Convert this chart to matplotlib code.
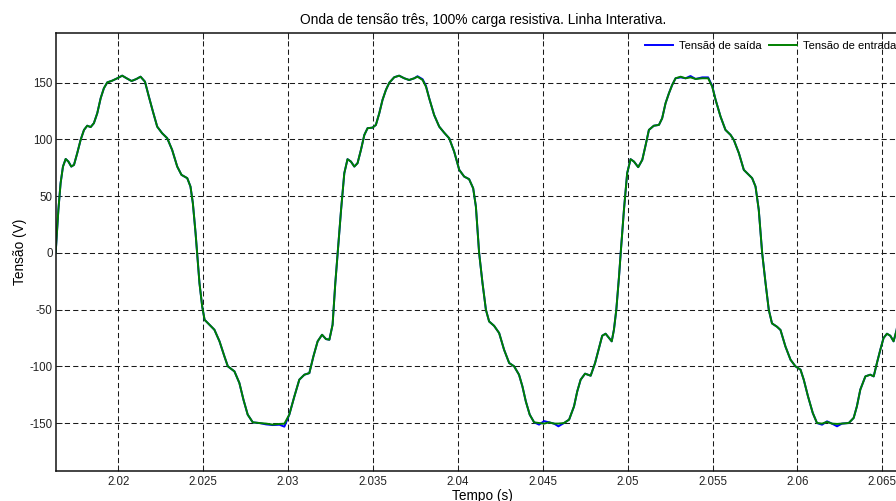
import matplotlib
matplotlib.use('Agg')
import matplotlib.pyplot as plt

plt.rcParams['font.family'] = ['Liberation Sans', 'DejaVu Sans']
plt.rcParams['axes.unicode_minus'] = False

# tempo (s)
tempo = [
    2.01631, 2.01647, 2.01660, 2.01674, 2.01690, 2.01706, 2.01723, 2.01739, 2.01758, 2.01778,
    2.01798, 2.01817, 2.01837, 2.01856, 2.01876, 2.01896, 2.01915, 2.01935, 2.01964, 2.01994,
    2.02023, 2.02049, 2.02078, 2.02107, 2.02131, 2.02157, 2.02180, 2.02204, 2.02229, 2.02258,
    2.02288, 2.02317, 2.02347, 2.02372, 2.02406, 2.02425, 2.02439, 2.02455,
    2.02478, 2.02494, 2.02508, 2.02537, 2.02566, 2.02596, 2.02625, 2.02645, 2.02684, 2.02713,
    2.02737, 2.02762, 2.02792, 2.02831, 2.02870, 2.02909, 2.02949, 2.02978, 2.03007, 2.03037,
    2.03066, 2.03096, 2.03125, 2.03149, 2.03174, 2.03200, 2.03223, 2.03243, 2.03262, 2.03278,
    2.03292, 2.03312, 2.03331, 2.03350, 2.03370, 2.03390, 2.03409, 2.03429, 2.03449, 2.03468,
    2.03497, 2.03517, 2.03537, 2.03556, 2.03576, 2.03596, 2.03625, 2.03654, 2.03684, 2.03713,
    2.03743, 2.03762, 2.03792, 2.03812, 2.03831, 2.03860, 2.03890, 2.03919, 2.03949, 2.03978,
    2.04008, 2.04037, 2.04066, 2.04090, 2.04106, 2.04125,
    2.04145, 2.04165, 2.04184, 2.04213, 2.04243, 2.04272, 2.04302, 2.04331, 2.04360, 2.04380,
    2.04400, 2.04423, 2.04449, 2.04478, 2.04508, 2.04537, 2.04566, 2.04592, 2.04625, 2.04655,
    2.04684, 2.04703, 2.04723, 2.04749, 2.04782, 2.04808, 2.04831, 2.04850, 2.04870, 2.04890,
    2.04906, 2.04919, 2.04933, 2.04949,
    2.04959, 2.04978, 2.04997, 2.05017, 2.05037, 2.05062, 2.05086, 2.05106, 2.05125, 2.05154,
    2.05184, 2.05203, 2.05223, 2.05243, 2.05262, 2.05282, 2.05312, 2.05341, 2.05370, 2.05400,
    2.05439, 2.05474, 2.05498, 2.05518, 2.05547, 2.05576, 2.05606, 2.05625, 2.05655, 2.05684,
    2.05713, 2.05733, 2.05753, 2.05772, 2.05792,
    2.05812, 2.05831, 2.05850, 2.05880, 2.05900, 2.05929, 2.05959, 2.05988, 2.06018, 2.06037,
    2.06062, 2.06090, 2.06115, 2.06145, 2.06174, 2.06203, 2.06233, 2.06262, 2.06302, 2.06331,
    2.06350, 2.06370, 2.06400, 2.06429, 2.06449, 2.06468, 2.06488, 2.06507, 2.06527, 2.06547,
    2.06566, 2.06584, 2.06602, 2.06625,
]

# tensão de entrada (V)
v_entrada = [
    0.0, 37.9, 61.3, 76.0, 82.7, 80.4, 76.0, 77.5, 87.8, 99.5,
    108.3, 112.0, 110.8, 114.2, 123.0, 136.2, 145.0, 150.2, 151.7, 153.8,
    156.1, 153.8, 151.4, 153.2, 155.2, 150.8, 137.6, 124.4, 111.2, 105.4,
    101.0, 90.7, 76.0, 68.7, 65.8, 58.4, 43.8, 17.4,
    -26.7, -47.2, -59.0, -63.4, -67.8, -78.0, -91.3, -100.0, -104.5, -114.7,
    -129.4, -142.6, -149.4, -150.0, -150.5, -151.4, -150.8, -150.6, -142.6, -126.5,
    -111.8, -107.4, -106.0, -91.3, -78.0, -72.2, -76.0, -76.6, -63.4, -26.7,
    0.0, 37.9, 70.2, 82.5, 80.4, 76.0, 79.0, 90.7, 103.9, 109.8,
    110.3, 112.7, 123.0, 134.7, 143.5, 149.9, 154.7, 156.1, 153.8, 152.3,
    153.8, 155.2, 152.3, 146.4, 136.2, 121.5, 111.2, 105.9, 100.9, 89.2,
    73.1, 67.2, 64.9, 56.9, 40.8, 0.0,
    -26.7, -50.2, -60.5, -64.3, -70.7, -85.4, -97.1, -100.0, -107.4, -117.7,
    -130.9, -142.6, -149.4, -150.0, -150.5, -149.4, -150.5, -150.5, -150.0, -147.0,
    -135.3, -122.1, -111.8, -106.5, -108.3, -97.1, -83.9, -73.1, -71.3, -75.1,
    -78.0, -67.8, -50.2, -20.9,
    0.0, 37.9, 70.2, 82.5, 80.4, 75.5, 81.9, 95.1, 108.3, 112.0,
    112.7, 118.5, 131.8, 140.6, 147.9, 153.8, 155.2, 153.8, 154.6, 153.2,
    153.8, 153.8, 146.4, 134.7, 120.0, 108.3, 103.9, 99.5, 87.8, 73.1,
    68.7, 65.8, 58.4, 37.9, 0.0,
    -26.7, -50.2, -62.2, -65.2, -68.0, -82.5, -94.2, -100.0, -103.0, -111.8,
    -126.5, -141.1, -150.0, -150.5, -149.0, -150.5, -150.8, -150.5, -150.0, -145.5,
    -135.3, -120.6, -108.9, -107.4, -108.9, -97.1, -85.4, -75.1, -71.3, -73.1,
    -78.0, -68.0, -50.0, 0.0,
]

# tensão de saída (V)
v_saida = [
    0.0, 37.9, 61.3, 76.0, 82.7, 80.4, 76.0, 77.5, 87.8, 99.5,
    108.3, 112.0, 110.8, 114.2, 123.0, 136.2, 145.0, 150.2, 151.7, 153.8,
    156.1, 153.8, 151.4, 153.2, 155.2, 150.8, 137.6, 124.4, 111.2, 105.4,
    101.0, 90.7, 76.0, 68.7, 65.8, 58.4, 43.8, 17.4,
    -26.7, -47.2, -59.0, -63.4, -67.8, -78.0, -91.3, -100.0, -104.5, -114.7,
    -129.4, -142.6, -149.4, -150.0, -151.2, -151.8, -151.5, -153.2, -142.6, -126.5,
    -111.8, -107.4, -106.0, -91.3, -78.0, -72.2, -76.0, -76.6, -63.4, -26.7,
    0.0, 37.9, 70.2, 82.5, 80.4, 76.0, 79.0, 90.7, 103.9, 109.8,
    110.3, 112.7, 123.0, 134.7, 143.5, 149.9, 154.7, 156.1, 153.8, 152.3,
    153.8, 155.6, 153.0, 147.2, 136.2, 121.5, 111.2, 105.9, 100.9, 89.2,
    73.1, 67.2, 64.9, 56.9, 40.8, 0.0,
    -26.7, -50.2, -60.5, -64.3, -70.7, -85.4, -97.1, -100.0, -107.4, -117.7,
    -130.9, -142.6, -149.4, -151.4, -148.3, -149.4, -150.5, -152.9, -150.0, -147.0,
    -135.3, -122.1, -111.8, -106.5, -108.3, -97.1, -83.9, -73.1, -71.3, -75.1,
    -78.0, -67.8, -50.2, -20.9,
    0.0, 37.9, 70.2, 82.5, 80.4, 75.5, 81.9, 95.1, 108.3, 112.0,
    112.7, 118.5, 131.8, 140.6, 147.9, 153.8, 154.6, 153.8, 155.8, 153.2,
    154.6, 154.6, 147.0, 134.7, 120.0, 108.3, 103.9, 99.5, 87.8, 73.1,
    68.7, 65.8, 58.4, 37.9, 0.0,
    -26.7, -50.2, -62.2, -65.2, -68.0, -82.5, -94.2, -100.0, -103.0, -111.8,
    -126.5, -141.1, -150.0, -151.5, -148.5, -150.5, -152.9, -150.5, -150.0, -145.5,
    -135.3, -120.6, -108.9, -107.4, -108.9, -97.1, -85.4, -75.1, -71.3, -73.1,
    -78.0, -68.0, -50.0, 0.0,
]

x_ticks = [2.02, 2.025, 2.03, 2.035, 2.04, 2.045, 2.05, 2.055, 2.06, 2.065]
x_labels = ['2.02', '2.025', '2.03', '2.035', '2.04', '2.045', '2.05', '2.055', '2.06', '2.065']
y_ticks = [-150, -100, -50, 0, 50, 100, 150]

fig = plt.figure(figsize=(8.96, 5.01), dpi=100)
ax = fig.add_axes([0.0625, 0.0605, 0.9526, 0.8743])

ax.plot(tempo, v_saida, color='#0000ff', lw=1.4, solid_joinstyle='round',
        label='Tensão de saída')
ax.plot(tempo, v_entrada, color='#008000', lw=1.4, solid_joinstyle='round',
        label='Tensão de entrada')

ax.set_xlim(2.01633, 2.0666)
ax.set_ylim(-192, 194)
ax.set_xticks(x_ticks)
ax.set_xticklabels(x_labels)
ax.set_yticks(y_ticks)
ax.tick_params(direction='in', top=True, right=True, length=4, width=0.7,
               labelsize=8.3, colors='#222222')
ax.tick_params(axis='x', pad=3.5)
ax.tick_params(axis='y', pad=2.5)

ax.grid(True, color='#1a1a1a', lw=0.75, linestyle=(0, (5, 3)))
for s in ax.spines.values():
    s.set_linewidth(1.1)
    s.set_color('#111111')

ax.set_title('Onda de tensão três, 100% carga resistiva. Linha Interativa.',
             fontsize=9.9, pad=6)
ax.set_xlabel('Tempo (s)', fontsize=9.8, labelpad=1)
ax.set_ylabel('Tensão (V)', fontsize=9.8, labelpad=2)

ax.legend(loc='upper left', bbox_to_anchor=(645 / 896, 1 - 41 / 501),
          bbox_transform=fig.transFigure, ncol=2, frameon=False,
          fontsize=8.1, borderpad=0, borderaxespad=0, handlelength=2.5,
          handletextpad=0.5, columnspacing=0.7)

plt.savefig('out.png', dpi=100)
